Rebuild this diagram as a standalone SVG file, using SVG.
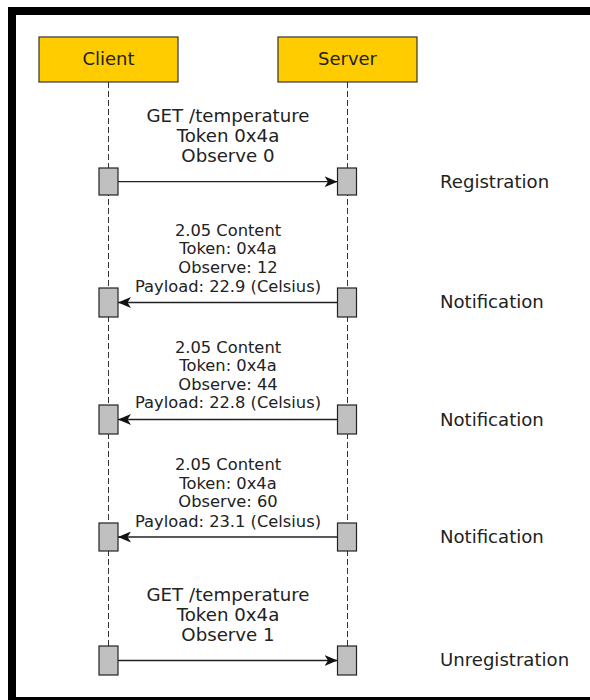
<svg xmlns="http://www.w3.org/2000/svg" width="590" height="700" viewBox="0 0 590 700">
<defs>
<style>
.frame{fill:#fff;stroke:#000;stroke-width:8}
.head{fill:#FFCC00;stroke:#333;stroke-width:1.2}
.act{fill:#C0C0C0;stroke:#222;stroke-width:1.2}
.life{stroke:#333;stroke-width:1;stroke-dasharray:6 3;fill:none}
.msg{stroke:#222;stroke-width:1.3;fill:none;marker-end:url(#arr)}
text{font-family:"DejaVu Sans","Noto Sans",sans-serif;fill:#222}
.hl{font-size:18px;text-anchor:middle}
.big{font-size:18.2px;text-anchor:middle}
.sm{font-size:16.3px;text-anchor:middle}
.lbl{font-size:18.1px}
</style>
<marker id="arr" viewBox="0 0 13 11" refX="13" refY="5.5" markerWidth="13" markerHeight="11" markerUnits="userSpaceOnUse" orient="auto">
<path d="M0,0 L13,5.5 L0,11 L3.5,5.5 Z" fill="#111"/>
</marker>
</defs>
<rect class="frame" x="12" y="11" width="600" height="690"/>
<g id="lifelines">
<line class="life" x1="108.5" y1="82" x2="108.5" y2="646"/>
<line class="life" x1="347.5" y1="82" x2="347.5" y2="646"/>
</g>
<g id="client">
<rect class="head" x="39" y="37" width="139" height="45"/>
<text class="hl" x="108.5" y="65">Client</text>
</g>
<g id="server">
<rect class="head" x="278" y="37" width="139" height="45"/>
<text class="hl" x="347.5" y="65">Server</text>
</g>
<g id="activations">
<rect class="act" x="99" y="168" width="19" height="27"/>
<rect class="act" x="337.5" y="168" width="19" height="27"/>
<rect class="act" x="99" y="288" width="19" height="29"/>
<rect class="act" x="337.5" y="288" width="19" height="29"/>
<rect class="act" x="99" y="405" width="19" height="29"/>
<rect class="act" x="337.5" y="405" width="19" height="29"/>
<rect class="act" x="99" y="523" width="19" height="28"/>
<rect class="act" x="337.5" y="523" width="19" height="28"/>
<rect class="act" x="99" y="646" width="19" height="29"/>
<rect class="act" x="337.5" y="646" width="19" height="29"/>
</g>
<g id="connectors">
<line class="msg" x1="118" y1="181.7" x2="337.5" y2="181.7"/>
<line class="msg" x1="337.5" y1="302.5" x2="118" y2="302.5"/>
<line class="msg" x1="337.5" y1="419.5" x2="118" y2="419.5"/>
<line class="msg" x1="337.5" y1="537" x2="118" y2="537"/>
<line class="msg" x1="118" y1="660.5" x2="337.5" y2="660.5"/>
</g>
<g id="msg1">
<text class="big" x="228" y="122.3">GET /temperature</text>
<text class="big" x="228" y="142">Token 0x4a</text>
<text class="big" x="228" y="161.7">Observe 0</text>
</g>
<g id="msg2">
<text class="sm" x="228" y="235.7">2.05 Content</text>
<text class="sm" x="228" y="254.3">Token: 0x4a</text>
<text class="sm" x="228" y="273">Observe: 12</text>
<text class="sm" x="228" y="291.5">Payload: 22.9 (Celsius)</text>
</g>
<g id="msg3">
<text class="sm" x="228" y="352.5">2.05 Content</text>
<text class="sm" x="228" y="371">Token: 0x4a</text>
<text class="sm" x="228" y="389.7">Observe: 44</text>
<text class="sm" x="228" y="408.3">Payload: 22.8 (Celsius)</text>
</g>
<g id="msg4">
<text class="sm" x="228" y="470">2.05 Content</text>
<text class="sm" x="228" y="488.5">Token: 0x4a</text>
<text class="sm" x="228" y="507.3">Observe: 60</text>
<text class="sm" x="228" y="526.5">Payload: 23.1 (Celsius)</text>
</g>
<g id="msg5">
<text class="big" x="228" y="601">GET /temperature</text>
<text class="big" x="228" y="621">Token 0x4a</text>
<text class="big" x="228" y="641">Observe 1</text>
</g>
<g id="labels">
<text class="lbl" x="440" y="187.5">Registration</text>
<text class="lbl" x="440" y="308.3">Notification</text>
<text class="lbl" x="440" y="425.5">Notification</text>
<text class="lbl" x="440" y="543">Notification</text>
<text class="lbl" x="440" y="666.3">Unregistration</text>
</g>
</svg>
